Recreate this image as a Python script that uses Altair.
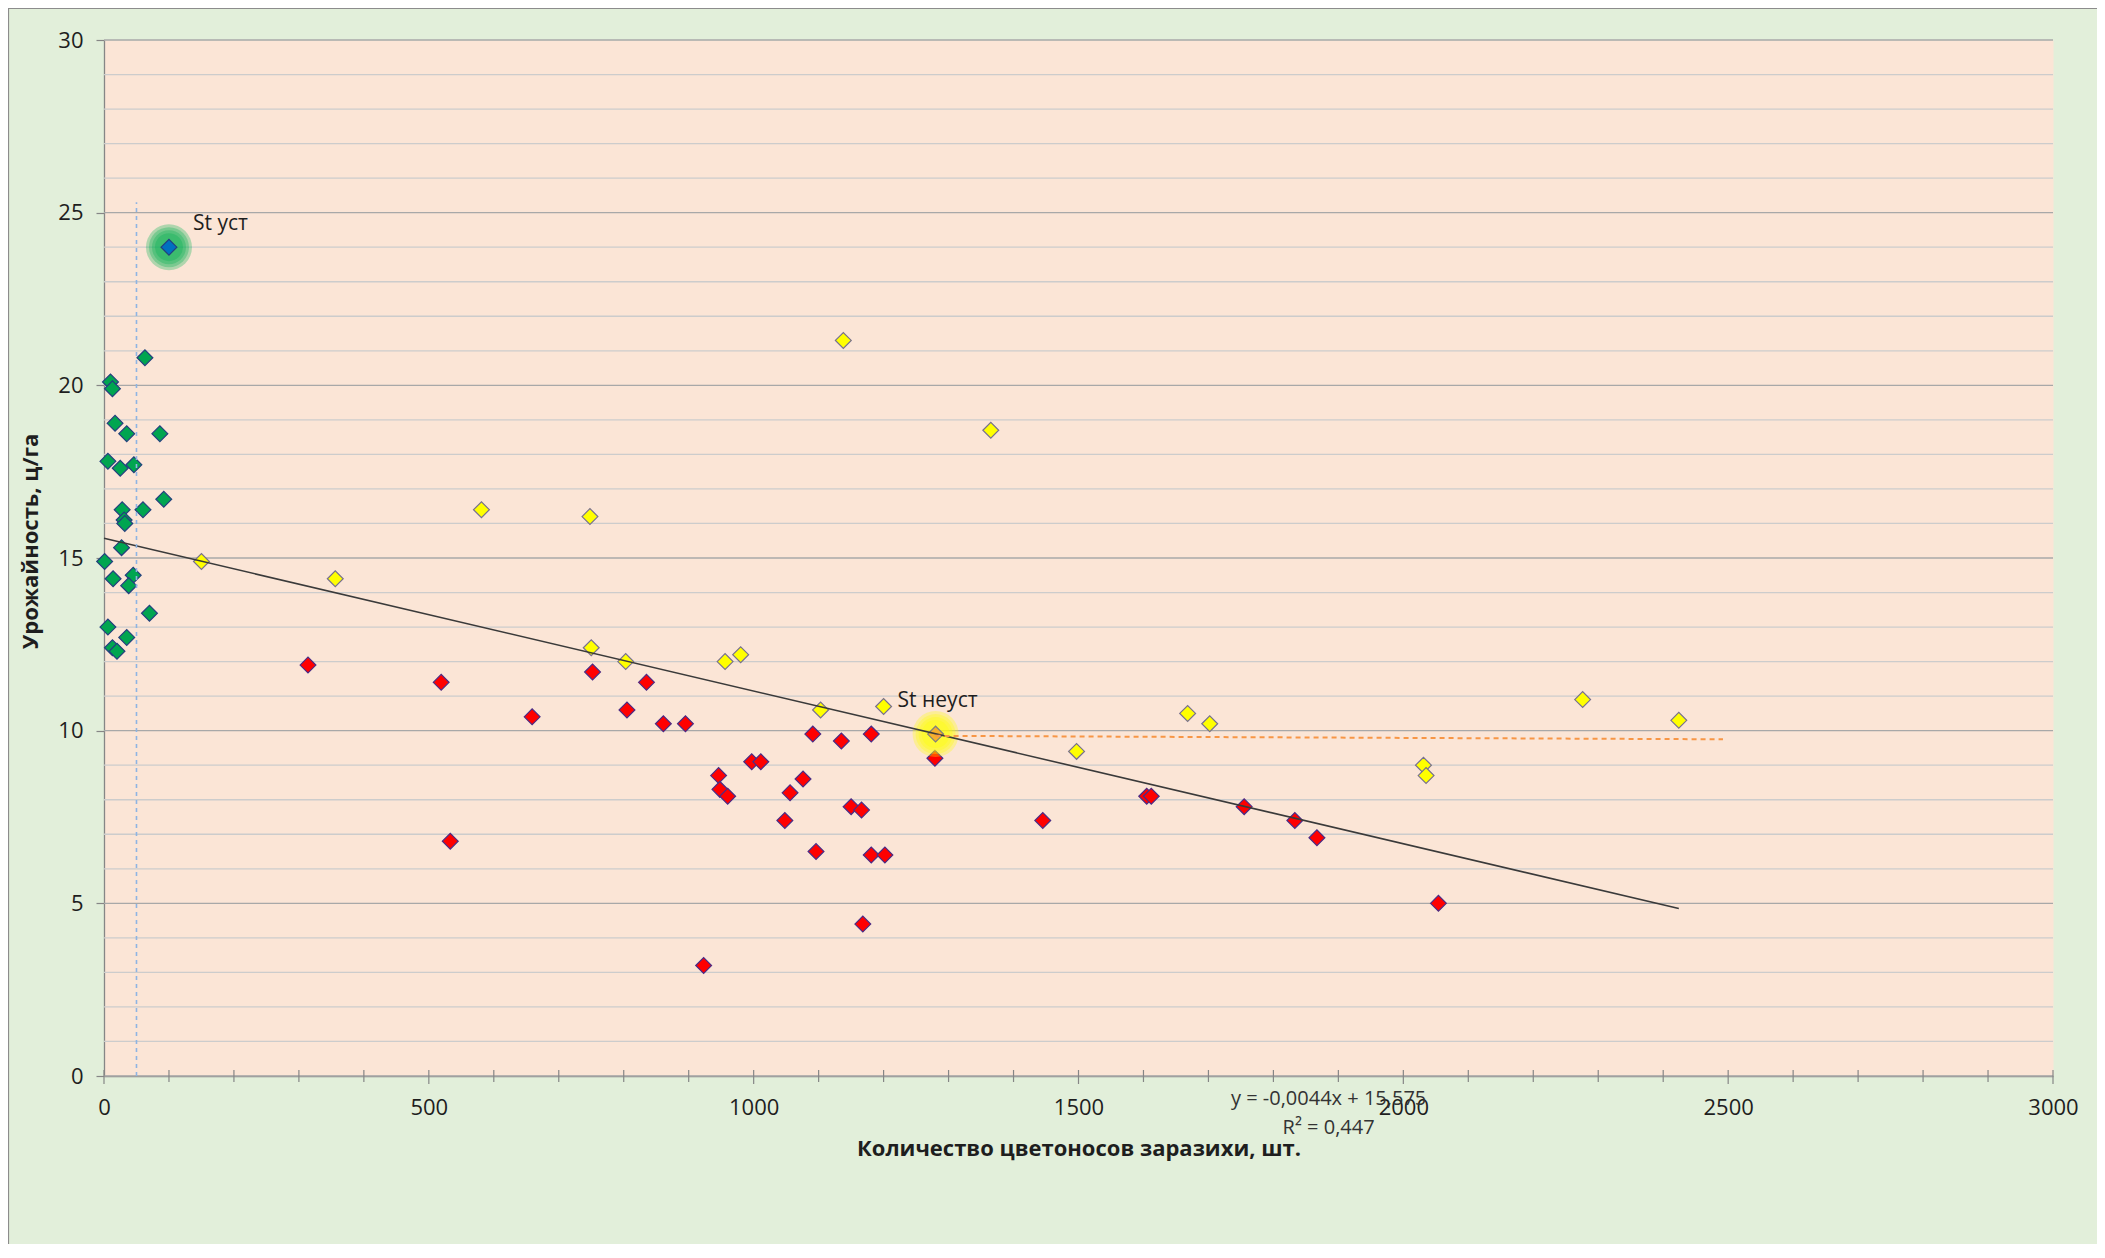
import altair as alt
import pandas as pd

# ---------------- data ----------------
green_x = [10, 13, 63, 17, 35, 86, 6, 25, 46, 92, 28, 60, 31, 32, 27, 1, 14, 45, 38, 70, 6, 35, 13, 20]
green_y = [20.1, 19.9, 20.8, 18.9, 18.6, 18.6, 17.8, 17.6, 17.7, 16.7, 16.4, 16.4, 16.1, 16.0, 15.3,
           14.9, 14.4, 14.5, 14.2, 13.4, 13.0, 12.7, 12.4, 12.3]

red_x = [314, 519, 533, 659, 752, 805, 835, 861, 895, 923, 946, 948, 960, 997, 1011, 1048, 1056, 1076,
         1091, 1096, 1135, 1150, 1166, 1168, 1181, 1181, 1202, 1279, 1445, 1605, 1612, 1755, 1833, 1867, 2054]
red_y = [11.9, 11.4, 6.8, 10.4, 11.7, 10.6, 11.4, 10.2, 10.2, 3.2, 8.7, 8.3, 8.1, 9.1, 9.1, 7.4, 8.2, 8.6,
         9.9, 6.5, 9.7, 7.8, 7.7, 4.4, 9.9, 6.4, 6.4, 9.2, 7.4, 8.1, 8.1, 7.8, 7.4, 6.9, 5.0]

yellow_x = [150, 356, 581, 748, 750, 803, 956, 980, 1103, 1138, 1200, 1365, 1497, 1668, 1702, 2031, 2035, 2276, 2424]
yellow_y = [14.9, 14.4, 16.4, 16.2, 12.4, 12.0, 12.0, 12.2, 10.6, 21.3, 10.7, 18.7, 9.4, 10.5, 10.2, 9.0, 8.7, 10.9, 10.3]

st_labels = ["St уст", "St неуст"]
st_x = [100, 1280]
st_y = [24.0, 9.9]

trend_x = [0, 2424]
trend_y = [15.57, 4.85]
trend_eq = ["y = -0,0044x + 15,575", "R² = 0,447"]

orange_x = [1280, 2492]
orange_y = [9.85, 9.75]

blue_x = [50, 50]
blue_y = [0, 25.3]

x_labels = list(range(0, 3001, 500))
x_ticks = list(range(0, 3001, 100))
y_labels = list(range(0, 31, 5))
y_grid = list(range(0, 31))

# ---------------- styling ----------------
W, H = 1949, 1036
FONT = "Open Sans"
TXT = "#1e1e1e"
AX = "#868686"

xs = alt.Scale(domain=[0, 3000], nice=False)
ys = alt.Scale(domain=[0, 30], nice=False)

x_axis = alt.Axis(
    values=x_labels, format="d", ticks=False, grid=False, labelFlush=False,
    labelFont=FONT, labelFontSize=22, labelColor=TXT, labelPadding=21,
    domainColor=AX, domainWidth=1.3,
    title="Количество цветоносов заразихи, шт.", titleFont=FONT, titleFontSize=22,
    titleFontWeight="bold", titleColor=TXT, titleBaseline="middle", titleY=72, titleX=W / 2,
)
y_axis = alt.Axis(
    values=y_labels, format="d", grid=False, labelFlush=False,
    tickColor=AX, tickSize=8, tickWidth=1.2,
    labelFont=FONT, labelFontSize=22, labelColor=TXT, labelPadding=13,
    domainColor=AX, domainWidth=1.3,
    title="Урожайность, ц/га", titleFont=FONT, titleFontSize=22, titleFontWeight="bold",
    titleColor=TXT, titleAngle=270, titleAlign="center", titleBaseline="middle",
    titleX=-74, titleY=501,
)

X = alt.X("x:Q", scale=xs, axis=x_axis)
Y = alt.Y("y:Q", scale=ys, axis=y_axis)

points = pd.DataFrame({
    "x": green_x + red_x + yellow_x,
    "y": green_y + red_y + yellow_y,
    "g": ["green"] * len(green_x) + ["red"] * len(red_x) + ["yellow"] * len(yellow_x),
})
st = pd.DataFrame({"x": st_x, "y": st_y, "label": st_labels, "g": ["ust", "neust"]})

fill_scale = alt.Scale(domain=["green", "red", "yellow", "ust", "neust"],
                       range=["#00A550", "#FF0000", "#FFFF00", "#0070C0", "#F5B02C"])
stroke_scale = alt.Scale(domain=["green", "red", "yellow", "ust", "neust"],
                         range=["#23407E", "#4A2C86", "#77708F", "#23407E", "#7F7F7F"])

# horizontal grid: every unit, darker every 5
grid_df = pd.DataFrame({"y": y_grid})
grid_minor = alt.Chart(grid_df).transform_filter("datum.y % 5 !== 0").mark_rule(
    color="#CCCCCC", strokeWidth=1.3).encode(y=Y, x=alt.value(0), x2=alt.value(W))
grid_major = alt.Chart(grid_df).transform_filter("datum.y % 5 === 0").mark_rule(
    color="#A8A8A8", strokeWidth=1.3).encode(y=Y, x=alt.value(0), x2=alt.value(W))

# glows around standards
glow_layers = []
for d in [46, 40, 34, 28]:
    glow_layers.append(
        alt.Chart(st).mark_circle(opacity=0.3, size=d * d).encode(
            x=X, y=Y,
            color=alt.Color("g:N", scale=alt.Scale(domain=["ust", "neust"], range=["#00B050", "#FFFF00"]),
                            legend=None),
        )
    )

pts = alt.Chart(points).mark_point(shape="diamond", filled=True, size=250, strokeWidth=1.2,
                                   opacity=1).encode(
    x=X, y=Y,
    fill=alt.Fill("g:N", scale=fill_scale, legend=None),
    stroke=alt.Stroke("g:N", scale=stroke_scale, legend=None),
)

st_pts = alt.Chart(st).mark_point(shape="diamond", filled=True, size=250, strokeWidth=1.2,
                                  opacity=1).encode(
    x=X, y=Y,
    fill=alt.Fill("g:N", scale=fill_scale, legend=None),
    stroke=alt.Stroke("g:N", scale=stroke_scale, legend=None),
)

trend = alt.Chart(pd.DataFrame({"x": trend_x, "y": trend_y})).mark_line(
    color="#3a3a3a", strokeWidth=1.6).encode(x=X, y=Y)

orange = alt.Chart(pd.DataFrame({"x": orange_x, "y": orange_y})).mark_line(
    color="#F79646", strokeWidth=2, strokeDash=[5, 4]).encode(x=X, y=Y)

blue = alt.Chart(pd.DataFrame({"x": blue_x, "y": blue_y})).mark_line(
    color="#8EB4E3", strokeWidth=1.6, strokeDash=[4, 4]).encode(x=X, y=Y)

lbl_ust = alt.Chart(st).transform_filter("datum.g === 'ust'").mark_text(
    font=FONT, fontSize=21, color=TXT, align="left", baseline="middle", dx=24, dy=-23).encode(
    x=X, y=Y, text="label:N")
lbl_neust = alt.Chart(st).transform_filter("datum.g === 'neust'").mark_text(
    font=FONT, fontSize=21, color=TXT, align="left", baseline="middle", dx=-38, dy=-33).encode(
    x=X, y=Y, text="label:N")

# trendline label (placed below the axis, as in the reference)
eq_df = pd.DataFrame({"t": trend_eq, "x": [1885, 1885], "y": [-0.67, -1.5]})
eq = alt.Chart(eq_df).mark_text(font=FONT, fontSize=20, color="#333333", align="center",
                                baseline="middle").encode(x=X, y=Y, text="t:N")

# x-axis ticks crossing the axis line (major every 500, minor every 100)
tick_df = pd.DataFrame({"x": x_ticks})
minor_ticks = alt.Chart(tick_df).transform_filter("datum.x % 500 !== 0").mark_rule(
    color=AX, strokeWidth=1.2).encode(x=X, y=alt.value(H - 6), y2=alt.value(H + 6))
major_ticks = alt.Chart(tick_df).transform_filter("datum.x % 500 === 0").mark_rule(
    color=AX, strokeWidth=1.2).encode(x=X, y=alt.value(H - 6), y2=alt.value(H + 8))

border = alt.Chart(pd.DataFrame({"a": [0]})).mark_rect(
    fill="transparent", stroke="#8C8C8C", strokeWidth=1.2).encode(
    x=alt.value(-95.5), x2=alt.value(W + 80), y=alt.value(-31.5), y2=alt.value(H + 300))

chart = alt.layer(
    grid_minor, grid_major, pts, *glow_layers, st_pts, trend, orange, blue,
    lbl_ust, lbl_neust, eq, minor_ticks, major_ticks, border,
).properties(
    width=W, height=H,
    autosize=alt.AutoSizeParams(type="none"),
    padding={"left": 96, "top": 32, "right": 44, "bottom": 168},
    background="#E2EFDA",
).configure_view(
    fill="#FBE5D6", stroke="transparent",
)

chart.save("out.html", embed_options={"renderer": "svg", "actions": False})
